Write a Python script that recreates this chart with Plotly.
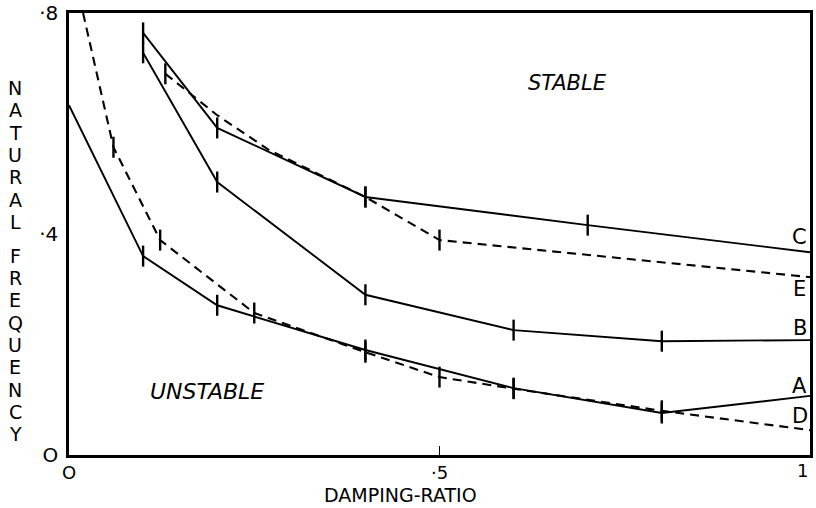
import plotly.graph_objects as go

# ---- data ----
a_x = [0.0, 0.10, 0.20, 0.40, 0.60, 0.80, 1.0]
a_y = [0.633, 0.36, 0.271, 0.19, 0.121, 0.076, 0.107]

b_x = [0.10, 0.20, 0.40, 0.60, 0.80, 1.0]
b_y = [0.728, 0.494, 0.29, 0.226, 0.206, 0.208]

c_x = [0.10, 0.20, 0.40, 0.70, 1.0]
c_y = [0.764, 0.592, 0.467, 0.416, 0.367]

d_x = [0.019, 0.06, 0.123, 0.25, 0.40, 0.50, 0.60, 0.80, 1.0]
d_y = [0.80, 0.557, 0.389, 0.257, 0.186, 0.141, 0.12, 0.08, 0.045]

e_x = [0.13, 0.20, 0.27, 0.40, 0.50, 1.0]
e_y = [0.69, 0.615, 0.552, 0.467, 0.389, 0.322]

x_tickvals = [0, 0.5, 1]
x_ticktext = ["O", "·5", "1"]
y_tickvals = [0, 0.4, 0.8]
y_ticktext = ["O", "·4", "·8"]

curve_labels = ["C", "E", "B", "A", "D"]
curve_label_y = [0.395, 0.300, 0.229, 0.125, 0.070]

y_title = "NATURAL FREQUENCY"
x_title = "DAMPING-RATIO"

FONT = "DejaVu Sans"

# plot area in pixels (for placing the stacked title)
L, R, T, B = 69, 6, 13, 53
W, H = 816, 508
PW, PH = W - L - R, H - T - B

series = [
    # x, y, dashed, tick on first point, tick on last point, interior points without ticks
    (a_x, a_y, False, False, False, None),
    (b_x, b_y, False, True, False, None),
    (c_x, c_y, False, True, False, None),
    (d_x, d_y, True, False, False, None),
    (e_x, e_y, True, True, False, {0.2, 0.27}),
]

fig = go.Figure()
for xs, ys, dashed, first_tick, last_tick, no_tick in series:
    sizes = []
    for i, xv in enumerate(xs):
        if i == 0:
            s = 15 if first_tick else 0
        elif i == len(xs) - 1:
            s = 15 if last_tick else 0
        else:
            s = 0 if (no_tick and xv in no_tick) else 15
        sizes.append(s)
    fig.add_trace(go.Scatter(
        x=xs, y=ys, mode="lines+markers",
        line=dict(color="black", width=1.9 if not dashed else 2.1,
                  dash="9px,6px" if dashed else "solid"),
        marker=dict(symbol="line-ns-open", size=sizes, color="black", opacity=1,
                    line=dict(width=2.4, color="black")),
        showlegend=False, hoverinfo="skip", cliponaxis=False,
    ))

annotations = []
for lab, yv in zip(curve_labels, curve_label_y):
    annotations.append(dict(x=0.986, y=yv, xref="x", yref="y", text=lab,
                            showarrow=False, xanchor="center", yanchor="middle",
                            font=dict(family=FONT, size=21, color="black")))

annotations.append(dict(x=0.673, y=0.674, xref="x", yref="y", text="<i>STABLE</i>",
                        showarrow=False, font=dict(family=FONT, size=21, color="black")))
annotations.append(dict(x=0.186, y=0.115, xref="x", yref="y", text="<i>UNSTABLE</i>",
                        showarrow=False, font=dict(family=FONT, size=22, color="black")))

# vertical stacked y-axis title, one letter per line
pitch = 22.3
ypix = 88.0
for ch in y_title:
    if ch == " ":
        ypix += 34 - pitch
        continue
    annotations.append(dict(x=(15 - L) / PW, y=(H - B - ypix) / PH,
                            xref="paper", yref="paper", text=ch,
                            showarrow=False, xanchor="center", yanchor="middle",
                            font=dict(family=FONT, size=19, color="black")))
    ypix += pitch

# x-axis title
annotations.append(dict(x=(400 - L) / PW, y=(H - B - 495) / PH, xref="paper", yref="paper",
                        text=x_title, showarrow=False, xanchor="center", yanchor="middle",
                        font=dict(family=FONT, size=19, color="black")))

# last x tick label drawn right-aligned so it stays inside the page
annotations.append(dict(x=x_tickvals[-1], y=(H - B - 470) / PH, xref="x", yref="paper",
                        text=x_ticktext[-1], showarrow=False, xanchor="right", yanchor="middle",
                        font=dict(family=FONT, size=18, color="black")))
x_ticktext_axis = x_ticktext[:-1] + [""]

fig.update_layout(
    width=W, height=H,
    margin=dict(l=L, r=R, t=T, b=B),
    paper_bgcolor="white", plot_bgcolor="white",
    annotations=annotations,
    xaxis=dict(range=[0, 1], tickvals=x_tickvals, ticktext=x_ticktext_axis,
               automargin=False,
               showgrid=False, zeroline=False, showline=True, linecolor="black",
               linewidth=2.5, mirror=True, ticks="inside", ticklen=9, tickwidth=1.2,
               tickcolor="black", ticklabelstandoff=0,
               tickfont=dict(family=FONT, size=18, color="black")),
    yaxis=dict(range=[0, 0.8], tickvals=y_tickvals, ticktext=y_ticktext,
               automargin=False,
               showgrid=False, zeroline=False, showline=True, linecolor="black",
               linewidth=2.5, mirror=True, ticks="",
               ticklabelstandoff=4,
               tickfont=dict(family=FONT, size=20, color="black")),
)

fig.write_html("out.html", config={"displayModeBar": False},
               post_script="document.body.style.margin='0';document.body.style.overflow='hidden';")
